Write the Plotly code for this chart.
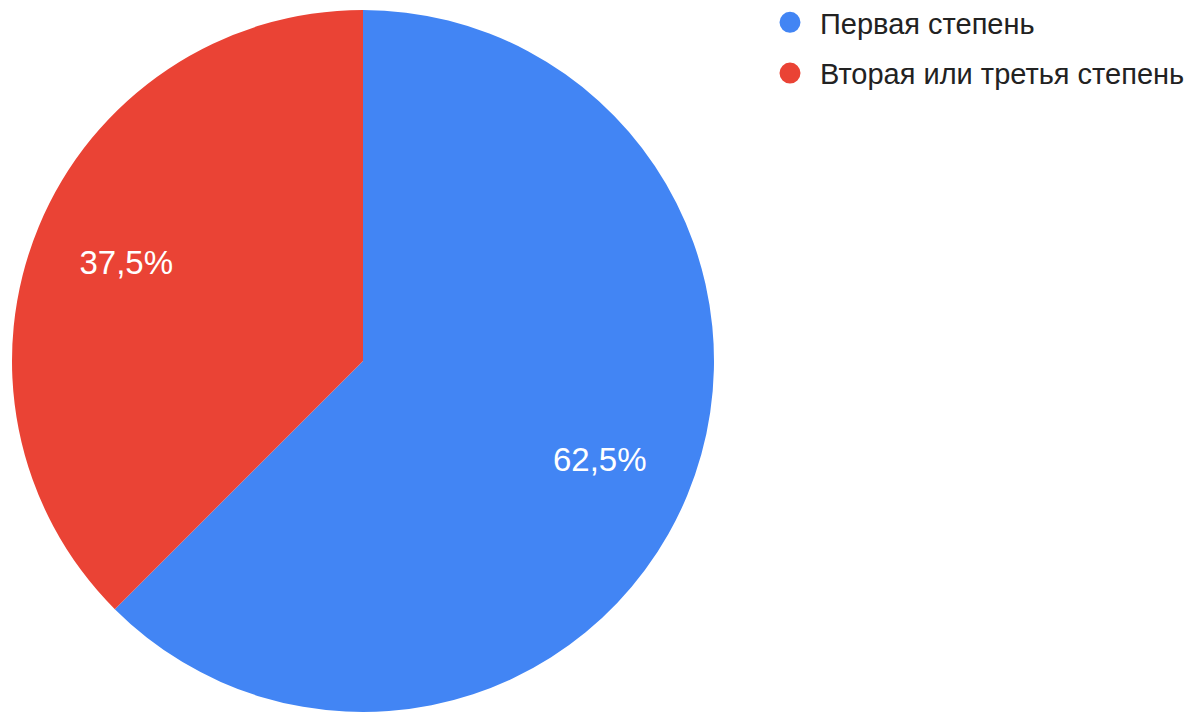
import plotly.graph_objects as go

labels = ["Первая степень", "Вторая или третья степень"]
values = [5, 3]
colors = ["#4285F4", "#EA4335"]

W, H = 1191, 714
dom = dict(x=[12 / W, 714 / W], y=[1 - 712 / H, 1 - 10 / H])

fig = go.Figure()
fig.add_trace(go.Pie(
    labels=labels, values=values, sort=False, direction="clockwise", rotation=0,
    marker=dict(colors=colors, line=dict(width=0)),
    textinfo="none", showlegend=False, hoverinfo="label+percent", domain=dom,
))
# transparent ring used only to place the percentage labels further out
fig.add_trace(go.Pie(
    labels=labels, values=values, sort=False, direction="clockwise", rotation=0,
    hole=0.46, marker=dict(colors=["rgba(0,0,0,0)"] * 2, line=dict(width=0)),
    texttemplate="%{percent:.1%}", textposition="inside", insidetextorientation="horizontal",
    textfont=dict(family="Arial", size=33, color="white"),
    showlegend=False, hoverinfo="skip", domain=dom,
))
for lab, col in zip(labels, colors):
    fig.add_trace(go.Scatter(x=[None], y=[None], mode="markers", name=lab, legendgroup=lab,
                             marker=dict(symbol="circle", size=16, color=col,
                                         line=dict(width=5, color=col)),
                             showlegend=True))

fig.update_layout(
    width=W, height=H, margin=dict(l=0, r=0, t=0, b=0, autoexpand=False),
    paper_bgcolor="white", plot_bgcolor="white",
    separators=",.",
    xaxis=dict(visible=False), yaxis=dict(visible=False),
    legend=dict(x=760 / W, y=1 + 3 / H, xanchor="left", yanchor="top",
                font=dict(family="Arial", size=29, color="#222222"),
                tracegroupgap=10, itemwidth=50, bgcolor="rgba(0,0,0,0)"),
)
fig.write_html("out.html")
